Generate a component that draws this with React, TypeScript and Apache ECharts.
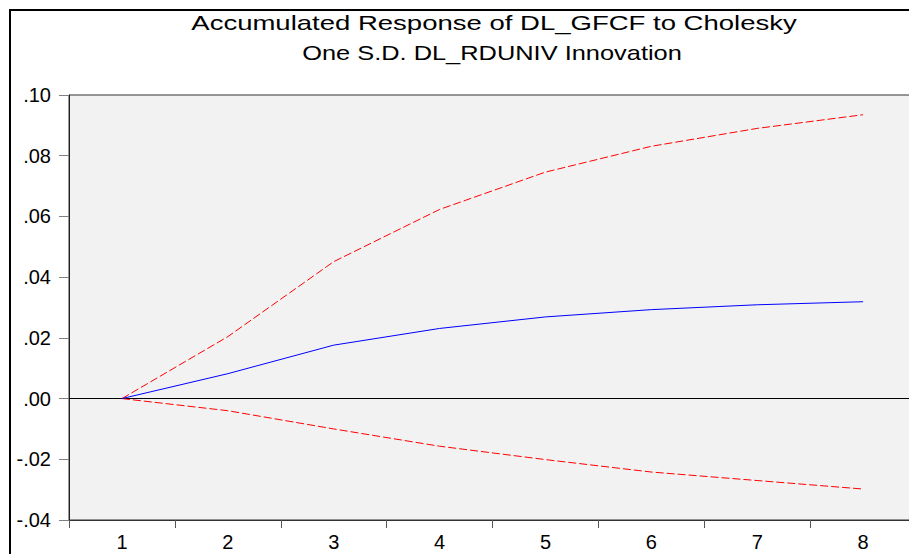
import React, { useEffect, useRef } from "react";
import * as echarts from "echarts";

const periods = ["1", "2", "3", "4", "5", "6", "7", "8"];
const response = [0.0, 0.0082, 0.0176, 0.0231, 0.0269, 0.0293, 0.0309, 0.0319];
const upperBand = [0.0, 0.0204, 0.0451, 0.0623, 0.0746, 0.0831, 0.089, 0.0935];
const lowerBand = [0.0, -0.004, -0.01, -0.0157, -0.0201, -0.0242, -0.027, -0.0298];
const titleLines = [
  "Accumulated Response of DL_GFCF to Cholesky",
  "One S.D. DL_RDUNIV Innovation",
];
const yMin = -0.04;
const yMax = 0.1;
const yStep = 0.02;

const fmt = (v: number) => {
  const r = Math.round(v * 100) / 100;
  const s = r.toFixed(2);
  return s.replace(/^(-?)0\./, "$1.");
};

export default function App() {
  const ref = useRef<HTMLDivElement>(null);
  useEffect(() => {
    if (!ref.current) return;
    const chart = echarts.init(ref.current, undefined, { renderer: "svg" });
    const font = "'Liberation Sans', Arial, sans-serif";
    const titleLayout = [
      { x: 494, y: 23, sx: 1.31 },
      { x: 492, y: 53, sx: 1.21 },
    ];
    chart.setOption({
      animation: false,
      backgroundColor: "#ffffff",
      grid: {
        left: 69,
        top: 95,
        width: 847,
        height: 425,
        show: true,
        backgroundColor: "#f2f2f2",
        borderColor: "#333",
        borderWidth: 1,
        containLabel: false,
      },
      xAxis: {
        type: "category",
        data: periods,
        boundaryGap: true,
        axisLine: { show: true, onZero: false, lineStyle: { color: "#333", width: 1 } },
        axisTick: { show: true, length: 8, lineStyle: { color: "#555", width: 1 } },
        axisLabel: { fontFamily: font, fontSize: 20, color: "#000", margin: 12 },
        splitLine: { show: false },
      },
      yAxis: {
        type: "value",
        min: yMin,
        max: yMax,
        interval: yStep,
        axisLine: { show: true, lineStyle: { color: "#222", width: 1 } },
        axisTick: { show: true, length: 10, lineStyle: { color: "#808080", width: 1 } },
        axisLabel: {
          fontFamily: font,
          fontSize: 20,
          color: "#000",
          margin: 18,
          formatter: (v: number) => fmt(v),
        },
        splitLine: { show: false },
      },
      graphic: [
        {
          type: "rect",
          shape: { x: 10, y: 10, width: 1000, height: 1000 },
          style: { fill: "none", stroke: "#000", lineWidth: 2 },
          silent: true,
          z: 100,
        },
        ...titleLines.map((t, i) => ({
          type: "text",
          x: titleLayout[i].x,
          y: titleLayout[i].y,
          scaleX: titleLayout[i].sx,
          silent: true,
          style: {
            text: t,
            fontFamily: font,
            fontSize: 21,
            fill: "#000",
            align: "center",
            verticalAlign: "middle",
          },
        })),
      ],
      series: [
        {
          name: "Response",
          type: "line",
          data: response,
          symbol: "none",
          lineStyle: { color: "#0000ff", width: 1 },
          z: 5,
          markLine: {
            silent: true,
            symbol: "none",
            label: { show: false },
            lineStyle: { color: "#000", width: 1, type: "solid" },
            data: [{ yAxis: 0 }],
            z: 1,
          },
        },
        {
          name: "Upper",
          type: "line",
          data: upperBand,
          symbol: "none",
          lineStyle: { color: "#ff0000", width: 1, type: [8, 3] },
          z: 4,
        },
        {
          name: "Lower",
          type: "line",
          data: lowerBand,
          symbol: "none",
          lineStyle: { color: "#ff0000", width: 1, type: [8, 3] },
          z: 4,
        },
      ],
    });
    return () => chart.dispose();
  }, []);
  return (
    <div
      style={{
        position: "fixed",
        left: 0,
        top: 0,
        width: 909,
        height: 554,
        overflow: "hidden",
        background: "#fff",
      }}
    >
      <div ref={ref} style={{ width: 940, height: 580 }} />
    </div>
  );
}
